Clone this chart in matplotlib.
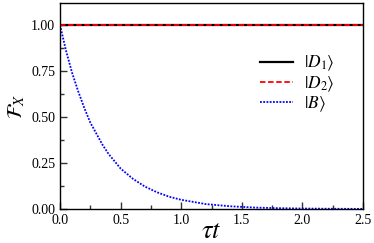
import numpy as np
import matplotlib
matplotlib.use("Agg")
import matplotlib.pyplot as plt
from matplotlib.ticker import MultipleLocator

# --------------------------------------------------
# data
# --------------------------------------------------
t_d = [0.0, 2.5]
fid_d1 = [1.0, 1.0]
fid_d2 = [1.0, 1.0]

t_b = [0.0, 0.05, 0.10, 0.15, 0.20, 0.25, 0.30, 0.35, 0.40, 0.45, 0.50,
       0.60, 0.70, 0.80, 0.90, 1.00, 1.20, 1.40, 1.60, 1.80, 2.00, 2.25, 2.50]
fid_b = [1.00, 0.86, 0.74, 0.64, 0.55, 0.47, 0.41, 0.35, 0.30, 0.26, 0.22,
         0.165, 0.122, 0.091, 0.067, 0.050, 0.027, 0.015, 0.008, 0.0045,
         0.0025, 0.0012, 0.0006]

labels = [r'$|D_1\rangle$', r'$|D_2\rangle$', r'$|B\rangle$']
xticks = [0.0, 0.5, 1.0, 1.5, 2.0, 2.5]
yticks = [0.00, 0.25, 0.50, 0.75, 1.00]

# --------------------------------------------------
# figure
# --------------------------------------------------
plt.rcParams['font.family'] = 'Liberation Serif'
plt.rcParams['mathtext.fontset'] = 'stix'

fig = plt.figure(figsize=(3.74, 2.43), dpi=100)
ax = fig.add_axes([60/374, 34/243, 303/374, 206/243])

ax.plot(t_d, fid_d1, color='black', lw=1.6, label=labels[0])
ax.plot(t_d, fid_d2, color='red', lw=1.3, ls=(0, (3, 1.5)), label=labels[1])
ax.plot(t_b, fid_b, color='blue', lw=1.3, ls=(0, (1, 0.8)), label=labels[2])

ax.set_xlim(0, 2.5)
ax.set_ylim(0, 1.12)
ax.set_xticks(xticks)
ax.set_yticks(yticks)
ax.set_xticklabels([f'{v:.1f}' for v in xticks])
ax.set_yticklabels([f'{v:.2f}' for v in yticks])
ax.xaxis.set_minor_locator(MultipleLocator(0.25))
ax.yaxis.set_minor_locator(MultipleLocator(0.125))
ax.tick_params(which='both', direction='in', top=False, right=False,
               labelsize=10, width=1, color='#333333')
ax.tick_params(which='major', length=5)
ax.tick_params(which='minor', length=3)
for sp in ax.spines.values():
    sp.set_linewidth(1.0)

ax.set_xlabel(r'$\tau t$', fontsize=19, labelpad=-4)
ax.set_ylabel(r'$\mathcal{F}_X$', fontsize=15, labelpad=3)

ax.legend(loc='upper left', bbox_to_anchor=(0.63, 0.795), frameon=False,
          fontsize=12.5, handlelength=1.95, handletextpad=0.6,
          labelspacing=0.05, borderpad=0)

fig.savefig('out.png', dpi=100)
